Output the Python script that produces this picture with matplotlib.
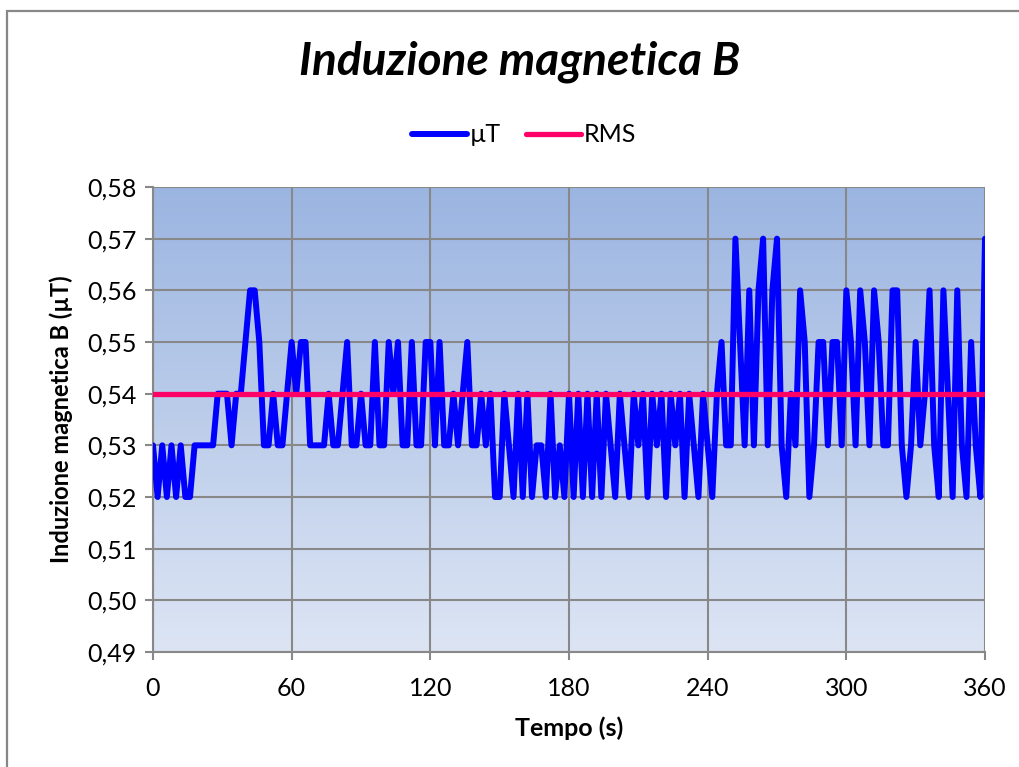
import numpy as np
import matplotlib
matplotlib.use("Agg")
import matplotlib.pyplot as plt
from matplotlib.patches import Rectangle
from matplotlib.colors import LinearSegmentedColormap

# ---- data ----
time_s = list(range(0, 362, 2))
b_uT = [
    0.53, 0.52, 0.53, 0.52, 0.53, 0.52, 0.53, 0.52, 0.52, 0.53,   # 0-18
    0.53, 0.53, 0.53, 0.53, 0.54, 0.54, 0.54, 0.53, 0.54, 0.54,   # 20-38
    0.55, 0.56, 0.56, 0.55, 0.53, 0.53, 0.54, 0.53, 0.53, 0.54,   # 40-58
    0.55, 0.54, 0.55, 0.55, 0.53, 0.53, 0.53, 0.53, 0.54, 0.53,   # 60-78
    0.53, 0.54, 0.55, 0.53, 0.53, 0.54, 0.53, 0.53, 0.55, 0.53,   # 80-98
    0.53, 0.55, 0.54, 0.55, 0.53, 0.53, 0.55, 0.53, 0.53, 0.55,   # 100-118
    0.55, 0.53, 0.55, 0.53, 0.53, 0.54, 0.53, 0.54, 0.55, 0.53,   # 120-138
    0.53, 0.54, 0.53, 0.54, 0.52, 0.52, 0.54, 0.53, 0.52, 0.54,   # 140-158
    0.52, 0.54, 0.52, 0.53, 0.53, 0.52, 0.54, 0.52, 0.53, 0.52,   # 160-178
    0.54, 0.52, 0.54, 0.52, 0.54, 0.52, 0.54, 0.52, 0.54, 0.53,   # 180-198
    0.52, 0.54, 0.53, 0.52, 0.54, 0.53, 0.54, 0.52, 0.54, 0.53,   # 200-218
    0.54, 0.52, 0.54, 0.53, 0.54, 0.52, 0.54, 0.53, 0.52, 0.54,   # 220-238
    0.53, 0.52, 0.54, 0.55, 0.53, 0.53, 0.57, 0.55, 0.53, 0.56,   # 240-258
    0.53, 0.56, 0.57, 0.53, 0.56, 0.57, 0.53, 0.52, 0.54, 0.53,   # 260-278
    0.56, 0.55, 0.52, 0.53, 0.55, 0.55, 0.53, 0.55, 0.55, 0.53,   # 280-298
    0.56, 0.55, 0.53, 0.56, 0.55, 0.53, 0.56, 0.55, 0.53, 0.53,   # 300-318
    0.56, 0.56, 0.53, 0.52, 0.53, 0.55, 0.53, 0.54, 0.56, 0.53,   # 320-338
    0.52, 0.56, 0.54, 0.52, 0.56, 0.53, 0.52, 0.55, 0.53, 0.52,   # 340-358
    0.57,                                                         # 360
]
rms_value = 0.54
rms_line = [rms_value] * len(time_s)

x_ticks = [0, 60, 120, 180, 240, 300, 360]
y_ticks = [0.49, 0.50, 0.51, 0.52, 0.53, 0.54, 0.55, 0.56, 0.57, 0.58]
y_tick_labels = ["0,49", "0,50", "0,51", "0,52", "0,53", "0,54", "0,55", "0,56", "0,57", "0,58"]

title = "Induzione magnetica B"
x_label = "Tempo (s)"
y_label = "Induzione magnetica B (µT)"
series_names = ["µT", "RMS"]

# ---- figure ----
W, H = 1019, 767
plt.rcParams['font.family'] = ['Lato', 'DejaVu Sans']
fig = plt.figure(figsize=(W / 100, H / 100), dpi=100)
fig.patch.set_facecolor("white")

# outer chart border
fig.patches.append(Rectangle((7 / W, -0.05), 1.1, 1 - 11 / H + 0.05,
                             transform=fig.transFigure, fill=False,
                             edgecolor="#878787", linewidth=1.6))

L, R, T, B = 153, 985, 187, 652
ax = fig.add_axes([L / W, 1 - B / H, (R - L) / W, (B - T) / H])

# gradient background
cmap = LinearSegmentedColormap.from_list("bg", ["#DDE5F4", "#9BB5E1"])
grad = np.linspace(0, 1, 256).reshape(-1, 1)
ax.imshow(grad, aspect="auto", cmap=cmap, origin="lower",
          extent=[0, 360, 0.49, 0.58], zorder=0)

ax.set_xlim(0, 360)
ax.set_ylim(0.49, 0.58)
ax.set_xticks(x_ticks)
ax.set_yticks(y_ticks)
ax.set_yticklabels(y_tick_labels)
ax.grid(True, color="#888888", linewidth=1.5, zorder=1)
ax.set_axisbelow(False)

ax.plot(time_s, b_uT, color="#0000FF", linewidth=4.3, zorder=3,
        solid_joinstyle="round", solid_capstyle="round", label=series_names[0])
ax.plot(time_s, rms_line, color="#FF0066", linewidth=3.8, zorder=4,
        solid_capstyle="round", label=series_names[1])

for s in ax.spines.values():
    s.set_color("#888888")
    s.set_linewidth(1.5)
ax.spines["top"].set_visible(False)
ax.spines["right"].set_visible(False)

ax.tick_params(axis="both", colors="#888888", width=1.5, length=6,
               labelcolor="black", labelsize=18)
ax.tick_params(axis="x", pad=12)
ax.tick_params(axis="y", pad=6)

ax.set_xlabel(x_label, fontsize=18, fontweight="bold", labelpad=12)
ax.set_ylabel(y_label, fontsize=17, fontweight="bold", labelpad=10)

fig.text(520 / W, 1 - 62 / H, title, fontsize=33, fontweight="bold",
         fontstyle="italic", ha="center", va="center")

leg = fig.legend(loc="center", bbox_to_anchor=(524 / W, 1 - 135 / H),
                 ncol=2, frameon=False, fontsize=18, handlelength=2.2,
                 handletextpad=0.1, columnspacing=1.0)

fig.savefig("out.png", dpi=100)
